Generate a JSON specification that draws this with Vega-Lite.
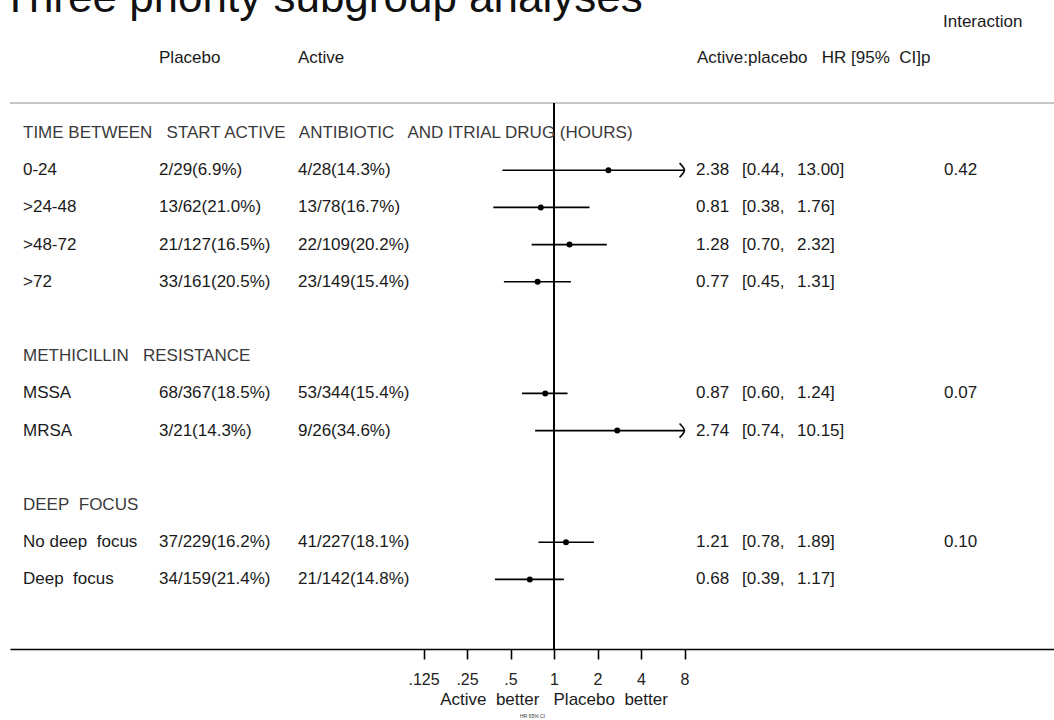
{
  "$schema": "https://vega.github.io/schema/vega-lite/v6.json",
  "width": 1044,
  "height": 623,
  "autosize": {"type": "none"},
  "padding": {"left": 10, "top": 26, "right": 0, "bottom": 71},
  "background": "white",
  "title": {"text": "Three priority subgroup analyses", "anchor": "start", "frame": "group", "font": "Liberation Sans", "fontSize": 44, "fontWeight": "normal", "color": "#111111", "dx": -8, "dy": 12, "offset": 4},
  "config": {"view": {"stroke": null}, "text": {"font": "Liberation Sans", "fontSize": 17}},
  "data": {"values": [
    {"row": 0, "kind": "group", "label": "TIME BETWEEN\u00a0\u00a0 START ACTIVE\u00a0\u00a0 ANTIBIOTIC\u00a0\u00a0 AND ITRIAL DRUG (HOURS)"},
    {"row": 1, "kind": "item", "label": "0-24", "placebo": "2/29(6.9%)", "active": "4/28(14.3%)", "hr": 2.38, "lo": 0.44, "hi": 13.00, "p": 0.42},
    {"row": 2, "kind": "item", "label": ">24-48", "placebo": "13/62(21.0%)", "active": "13/78(16.7%)", "hr": 0.81, "lo": 0.38, "hi": 1.76},
    {"row": 3, "kind": "item", "label": ">48-72", "placebo": "21/127(16.5%)", "active": "22/109(20.2%)", "hr": 1.28, "lo": 0.70, "hi": 2.32},
    {"row": 4, "kind": "item", "label": ">72", "placebo": "33/161(20.5%)", "active": "23/149(15.4%)", "hr": 0.77, "lo": 0.45, "hi": 1.31},
    {"row": 6, "kind": "group", "label": "METHICILLIN\u00a0\u00a0 RESISTANCE"},
    {"row": 7, "kind": "item", "label": "MSSA", "placebo": "68/367(18.5%)", "active": "53/344(15.4%)", "hr": 0.87, "lo": 0.60, "hi": 1.24, "p": 0.07},
    {"row": 8, "kind": "item", "label": "MRSA", "placebo": "3/21(14.3%)", "active": "9/26(34.6%)", "hr": 2.74, "lo": 0.74, "hi": 10.15},
    {"row": 10, "kind": "group", "label": "DEEP\u00a0 FOCUS"},
    {"row": 11, "kind": "item", "label": "No deep\u00a0 focus", "placebo": "37/229(16.2%)", "active": "41/227(18.1%)", "hr": 1.21, "lo": 0.78, "hi": 1.89, "p": 0.10},
    {"row": 12, "kind": "item", "label": "Deep\u00a0 focus", "placebo": "34/159(21.4%)", "active": "21/142(14.8%)", "hr": 0.68, "lo": 0.39, "hi": 1.17}
  ]},
  "layer": [
    {
      "mark": {"type": "rule", "color": "#c6c6c6", "strokeWidth": 2},
      "encoding": {"y": {"datum": -0.806, "type": "quantitative", "scale": {"domain": [-2.876, 13.871], "reverse": true, "nice": false, "zero": false}, "axis": null}}
    },
    {
      "mark": {"type": "rule", "color": "#000000", "strokeWidth": 1.6},
      "encoding": {"x": {"datum": 1}, "y": {"datum": -0.806, "axis": null}, "y2": {"datum": 13.871}}
    },
    {
      "transform": [{"filter": "datum.kind == 'item'"}, {"calculate": "min(datum.hi, 8)", "as": "hi_plot"}],
      "mark": {"type": "rule", "color": "#000000", "strokeWidth": 1.6},
      "encoding": {
        "x": {"field": "lo", "type": "quantitative", "title": "HR 95% CI",
          "scale": {"type": "log", "base": 2, "domain": [0.00017192, 2884.26], "nice": false},
          "axis": {"values": [0.125, 0.25, 0.5, 1, 2, 4, 8], "labelExpr": "replace(format(datum.value, ''), '0.', '.')", "title": "HR 95% CI", "titleFontSize": 5, "titleFont": "Liberation Sans", "titleFontWeight": "normal", "titleColor": "#333333", "titlePadding": 26, "labelFont": "Liberation Sans", "labelFontSize": 16, "labelColor": "#222222", "labelPadding": 12, "tickSize": 10, "tickColor": "#000000", "tickWidth": 1.6, "domainColor": "#000000", "domainWidth": 1.6, "grid": false, "labelFlush": false, "labelOverlap": false}},
        "x2": {"field": "hi_plot"},
        "y": {"field": "row", "type": "quantitative", "axis": null}
      }
    },
    {
      "transform": [{"filter": "datum.kind == 'item' && datum.hi > 8"}],
      "mark": {"type": "point", "shape": "M-0.7,-1Q-0.05,-0.35 0,0Q-0.05,0.35 -0.7,1", "filled": false, "stroke": "#000000", "strokeWidth": 1.6, "size": 200, "opacity": 1},
      "encoding": {"x": {"datum": 8}, "y": {"field": "row", "type": "quantitative", "axis": null}}
    },
    {
      "transform": [{"filter": "datum.kind == 'item'"}],
      "mark": {"type": "circle", "color": "#000000", "size": 36, "opacity": 1},
      "encoding": {"x": {"field": "hr", "type": "quantitative", "title": "HR 95% CI"}, "y": {"field": "row", "type": "quantitative", "axis": null}}
    },
    {
      "mark": {"type": "text", "align": "left", "baseline": "middle", "fontSize": 17},
      "encoding": {"x": {"datum": 0.0002115}, "y": {"field": "row", "type": "quantitative", "axis": null}, "text": {"field": "label"},
        "color": {"condition": {"test": "datum.kind == 'group'", "value": "#3a3a3a"}, "value": "#1a1a1a"}}
    },
    {
      "transform": [{"filter": "datum.kind == 'item'"}],
      "mark": {"type": "text", "align": "left", "baseline": "middle", "fontSize": 17, "color": "#1a1a1a"},
      "encoding": {"x": {"datum": 0.0018472}, "y": {"field": "row", "type": "quantitative", "axis": null}, "text": {"field": "placebo"}}
    },
    {
      "transform": [{"filter": "datum.kind == 'item'"}],
      "mark": {"type": "text", "align": "left", "baseline": "middle", "fontSize": 17, "color": "#1a1a1a"},
      "encoding": {"x": {"datum": 0.01692}, "y": {"field": "row", "type": "quantitative", "axis": null}, "text": {"field": "active"}}
    },
    {
      "transform": [{"filter": "datum.kind == 'item'"}],
      "mark": {"type": "text", "align": "left", "baseline": "middle", "fontSize": 17, "color": "#1a1a1a"},
      "encoding": {"x": {"datum": 9.609}, "y": {"field": "row", "type": "quantitative", "axis": null}, "text": {"field": "hr", "format": ".2f"}}
    },
    {
      "transform": [{"filter": "datum.kind == 'item'"}, {"calculate": "'[' + format(datum.lo, '.2f') + ','", "as": "lo_s"}],
      "mark": {"type": "text", "align": "left", "baseline": "middle", "fontSize": 17, "color": "#1a1a1a"},
      "encoding": {"x": {"datum": 20.0}, "y": {"field": "row", "type": "quantitative", "axis": null}, "text": {"field": "lo_s"}}
    },
    {
      "transform": [{"filter": "datum.kind == 'item'"}, {"calculate": "format(datum.hi, '.2f') + ']'", "as": "hi_s"}],
      "mark": {"type": "text", "align": "left", "baseline": "middle", "fontSize": 17, "color": "#1a1a1a"},
      "encoding": {"x": {"datum": 48.04}, "y": {"field": "row", "type": "quantitative", "axis": null}, "text": {"field": "hi_s"}}
    },
    {
      "transform": [{"filter": "isValid(datum.p)"}],
      "mark": {"type": "text", "align": "left", "baseline": "middle", "fontSize": 17, "color": "#1a1a1a"},
      "encoding": {"x": {"datum": 500}, "y": {"field": "row", "type": "quantitative", "axis": null}, "text": {"field": "p", "format": ".2f"}}
    },
    {
      "data": {"values": [{"t": "Placebo"}]},
      "mark": {"type": "text", "align": "left", "baseline": "middle", "fontSize": 17, "color": "#1a1a1a"},
      "encoding": {"x": {"datum": 0.0018472}, "y": {"datum": -2.016, "axis": null}, "text": {"field": "t"}}
    },
    {
      "data": {"values": [{"t": "Active"}]},
      "mark": {"type": "text", "align": "left", "baseline": "middle", "fontSize": 17, "color": "#1a1a1a"},
      "encoding": {"x": {"datum": 0.01692}, "y": {"datum": -2.016, "axis": null}, "text": {"field": "t"}}
    },
    {
      "data": {"values": [{"t": "Active:placebo\u00a0\u00a0 HR [95%\u00a0 CI]p"}]},
      "mark": {"type": "text", "align": "left", "baseline": "middle", "fontSize": 17, "color": "#1a1a1a"},
      "encoding": {"x": {"datum": 9.763}, "y": {"datum": -2.016, "axis": null}, "text": {"field": "t"}}
    },
    {
      "data": {"values": [{"t": "Interaction"}]},
      "mark": {"type": "text", "align": "left", "baseline": "middle", "fontSize": 17, "color": "#1a1a1a"},
      "encoding": {"x": {"datum": 492}, "y": {"datum": -2.984, "axis": null}, "text": {"field": "t"}}
    },
    {
      "data": {"values": [{"t": "Active\u00a0 better\u00a0\u00a0 Placebo\u00a0 better"}]},
      "mark": {"type": "text", "align": "center", "baseline": "middle", "fontSize": 17, "color": "#1a1a1a"},
      "encoding": {"x": {"datum": 1}, "y": {"datum": 15.242, "axis": null}, "text": {"field": "t"}}
    }
  ]
}
